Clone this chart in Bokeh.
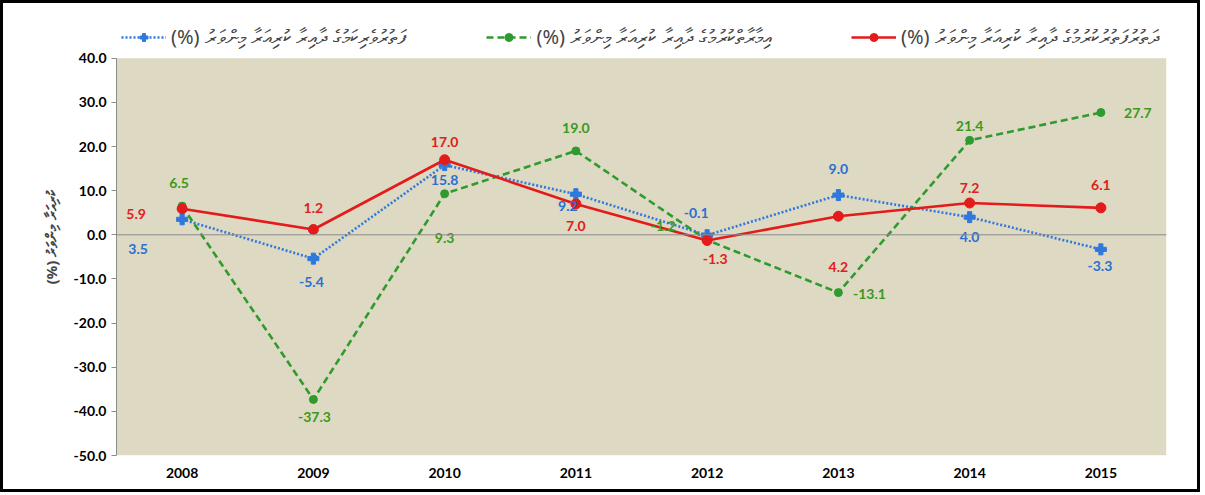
from bokeh.plotting import figure
from bokeh.models import (ColumnDataSource, FactorRange, Range1d, Legend, LegendItem,
                          Span, FixedTicker, PrintfTickFormatter, BoxAnnotation)
from bokeh.core.properties import value
from bokeh.embed import file_html
from bokeh.resources import INLINE

years = ["2008", "2009", "2010", "2011", "2012", "2013", "2014", "2015"]
tourism = [3.5, -5.4, 15.8, 9.2, -0.1, 9.0, 4.0, -3.3]
construction = [6.5, -37.3, 9.3, 19.0, -1.2, -13.1, 21.4, 27.7]
transport = [5.9, 1.2, 17.0, 7.0, -1.3, 4.2, 7.2, 6.1]

name_tourism = "(%) ފަތުރުވެރިކަމުގެ ދާއިރާ ކުރިއަރާ މިންވަރު"
name_construction = "(%) އިމާރާތްކުރުމުގެ ދާއިރާ ކުރިއަރާ މިންވަރު"
name_transport = "(%) ދަތުރުފަތުރުކުރުމުގެ ދާއިރާ ކުރިއަރާ މިންވަރު"
y_title = "(%) ކުރިއަރާ މިންވަރު"
y_ticks = [-50, -40, -30, -20, -10, 0, 10, 20, 30, 40]
y_min, y_max = -50, 40

# label offsets (screen px, +y = down; style only)
off_transport = [(-46, 5), (0, -21), (0, -18), (0, 22), (8, 18), (0, 51), (0, -15), (0, -23)]
off_construction = [(-3, -23), (1, 18), (0, 44), (0, -23), (-44, -14), (31, 1), (0, -14), (37, 0)]
off_tourism = [(-44, 30), (-2, 23), (0, 15), (-8, 12), (-11, -22), (0, -26), (0, 20), (-1, 17)]

BLUE = "#2F78DC"
GREEN = "#2F9B2F"
RED = "#E31B1B"
FONT = "Lato"

# extra headroom above the plot area holds the legend
p = figure(frame_width=1050, frame_height=437, x_range=FactorRange(*years),
           y_range=Range1d(y_min, y_max + 9),
           output_backend="svg", toolbar_location=None,
           min_border_left=113, min_border_right=31, min_border_top=15, min_border_bottom=34)
p.margin = (3, 3, 3, 3)
p.styles = {"outline": "3px solid black"}
p.background_fill_color = "white"
p.border_fill_color = "white"
p.outline_line_color = None
p.xgrid.grid_line_color = None
p.ygrid.grid_line_color = None

p.add_layout(BoxAnnotation(bottom=y_min, top=y_max, fill_color="#DDD9C3", fill_alpha=1,
                           line_color=None, level="underlay"))

p.yaxis.bounds = (y_min, y_max)
p.yaxis.ticker = FixedTicker(ticks=y_ticks)
p.yaxis.formatter = PrintfTickFormatter(format="%.1f")
p.yaxis.major_label_text_font = FONT
p.yaxis.major_label_text_font_style = "bold"
p.yaxis.major_label_text_font_size = "14px"
p.yaxis.major_label_text_color = "black"
p.yaxis.axis_line_color = "#8C8C8C"
p.yaxis.major_tick_line_color = "#8C8C8C"
p.yaxis.major_tick_out = 5
p.yaxis.major_tick_in = 0
p.yaxis.minor_tick_line_color = None
p.yaxis.axis_label = y_title
p.yaxis.axis_label_text_font = "Noto Sans"
p.yaxis.axis_label_text_font_size = "15px"
p.yaxis.axis_label_text_font_style = "bold"
p.yaxis.axis_label_standoff = 10

p.xaxis.axis_line_color = None
p.xaxis.major_tick_line_color = None
p.xaxis.major_label_text_font = FONT
p.xaxis.major_label_text_font_style = "bold"
p.xaxis.major_label_text_font_size = "14px"
p.xaxis.major_label_text_color = "black"
p.xaxis.major_label_standoff = 6

p.add_layout(Span(location=0, dimension="width", line_color="#8C8C8C", line_width=1))

items = []
sources = []
series = [
    (tourism, BLUE, "dotted", "plus", 11, name_tourism, off_tourism, "#2A6FD2"),
    (construction, GREEN, "dashed", "circle", 8, name_construction, off_construction, "#3A9A1A"),
    (transport, RED, "solid", "circle", 10, name_transport, off_transport, "#E0201B"),
]
for vals, col, dash, marker, msize, name, offs, lcol in series:
    src = ColumnDataSource(dict(
        x=years, y=vals, t=["%.1f" % v for v in vals],
        dx=[o[0] for o in offs], dy=[o[1] for o in offs]))
    ln = p.line("x", "y", source=src, line_color=col, line_width=2.6,
                line_dash="2 2" if dash == "dotted" else ("7 4" if dash == "dashed" else "solid"))
    sc = p.scatter("x", "y", source=src, marker=marker, size=msize, fill_color=col,
                   line_color=col)
    sources.append((src, lcol))
    items.append(LegendItem(label=name, renderers=[ln, sc]))

# data labels drawn on top of all lines
for src, lcol in sources:
    p.text("x", "y", text="t", source=src, x_offset="dx", y_offset="dy",
           text_align="center", text_baseline="middle", text_color=lcol,
           text_font=value(FONT), text_font_style="bold", text_font_size="14px")

legend = Legend(items=items, orientation="horizontal", location="top_left",
                spacing=80, glyph_width=45, label_text_font="Noto Sans",
                label_text_font_size="20px", border_line_color=None,
                background_fill_alpha=0, padding=2, margin=5)
p.add_layout(legend)

open("out.html", "w").write(file_html(p, INLINE))
